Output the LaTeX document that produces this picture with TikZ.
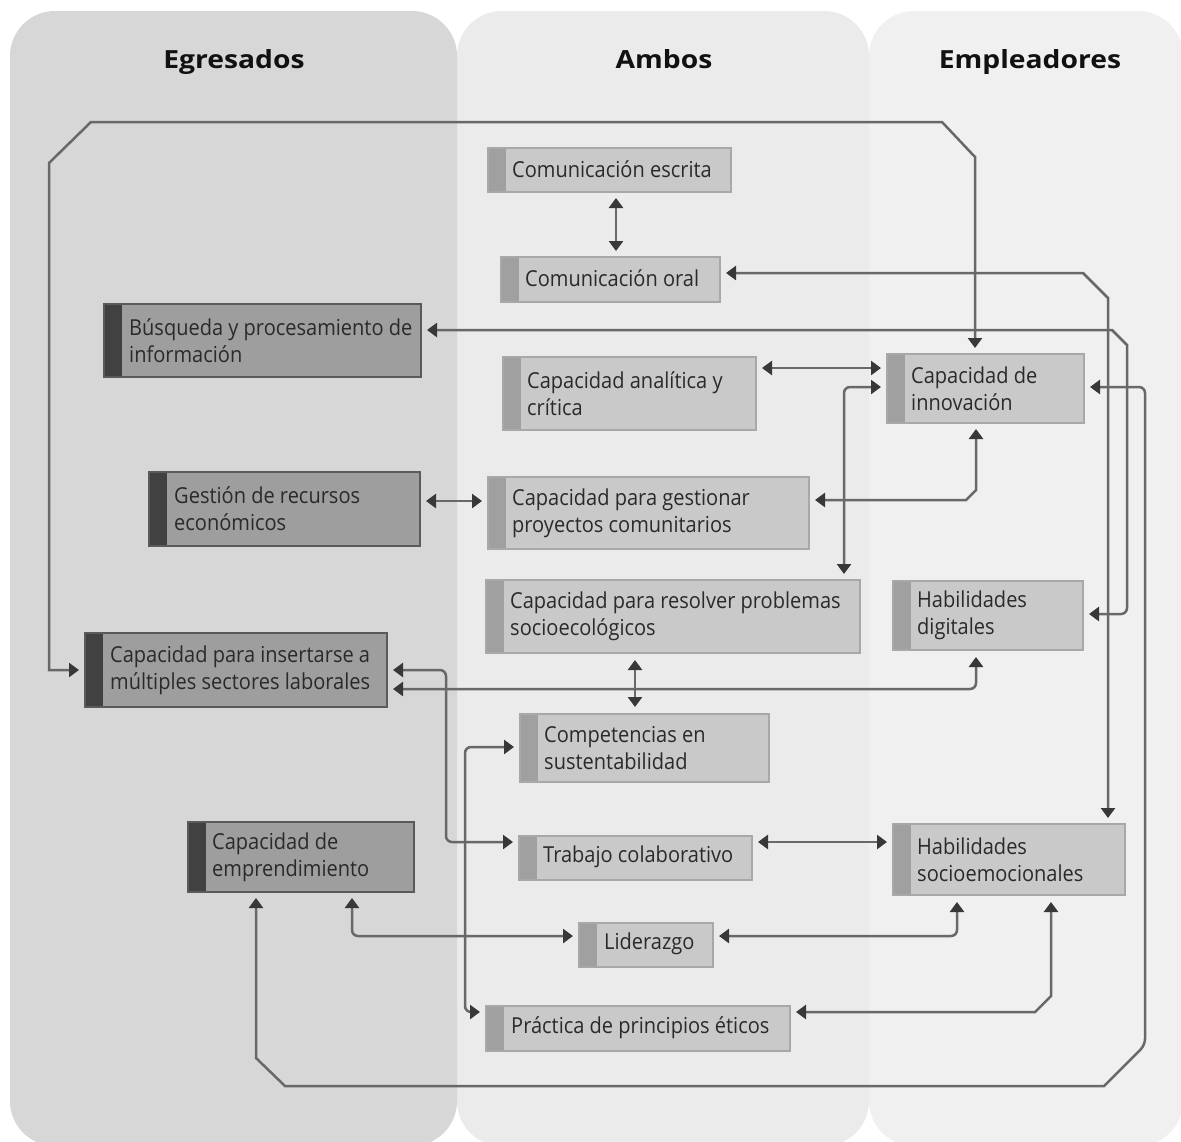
\documentclass[tikz,border=0pt]{standalone}
\usepackage{fontspec}
\setmainfont{Open Sans}[FakeStretch=0.91]
\newfontfamily\headfont{Open Sans}[FakeStretch=1.13]
\usetikzlibrary{arrows.meta,calc}
\definecolor{panA}{HTML}{D7D7D7}
\definecolor{panB}{HTML}{EBEBEB}
\definecolor{panC}{HTML}{F0F0F0}
\definecolor{darkfill}{HTML}{9E9E9E}
\definecolor{darkstripe}{HTML}{414141}
\definecolor{darkborder}{HTML}{5A5A5A}
\definecolor{lightfill}{HTML}{C9C9C9}
\definecolor{lightstripe}{HTML}{A0A0A0}
\definecolor{lightborder}{HTML}{A8A8A8}
\definecolor{linec}{HTML}{686868}
\definecolor{tipc}{HTML}{383838}
\definecolor{txtc}{HTML}{2A2A2A}
\definecolor{headc}{HTML}{111111}
\begin{document}
\begin{tikzpicture}[x=1pt,y=-1pt,
  panel/.style={fill=#1, draw=none, rounded corners=45pt},
  boxbase/.style={anchor=north west, inner sep=0pt, outer sep=0pt, line width=1.6pt,
     path picture={\fill[#1] (path picture bounding box.north west) rectangle ([xshift=18pt]path picture bounding box.south west);}},
  egbox/.style={boxbase=darkstripe, fill=darkfill, draw=darkborder},
  ambox/.style={boxbase=lightstripe, fill=lightfill, draw=lightborder},
  txt/.style={anchor=west, align=left, inner sep=0pt, text=txtc, font=\fontsize{22}{27}\selectfont},
  head/.style={anchor=base, font=\headfont\bfseries\fontsize{25}{30}\selectfont, text=headc},
  conn/.style={draw=linec, line width=2.5pt,
     {Triangle[length=10pt,width=14pt,color=tipc]}-{Triangle[length=10pt,width=14pt,color=tipc]}},
  rc/.style={rounded corners=6pt},
]
\useasboundingbox (0,0) rectangle (1181,1141);
\fill[white] (0,0) rectangle (1181,1141);
% panels
\path[panel=panB] (457,11) rectangle (869,1146);
\path[panel=panC] (869,11) rectangle (1183,1146);
\path[panel=panA] (10,11) rectangle (457,1146);
% headers
\node[head] (hE) at (234,68) {Egresados};
\node[head] (hA) at (664,68) {Ambos};
\node[head] (hM) at (1030,68) {Empleadores};
% egresados boxes
\node[egbox, minimum width=317pt, minimum height=73pt] (busq) at (104,304) {};
\node[egbox, minimum width=271pt, minimum height=74pt] (gest) at (149,472) {};
\node[egbox, minimum width=302pt, minimum height=74pt] (ins) at (85,633) {};
\node[egbox, minimum width=226pt, minimum height=70pt] (empr) at (188,822) {};
% ambos / empleadores boxes
\node[ambox, minimum width=243pt, minimum height=44pt] (escr) at (488,148) {};
\node[ambox, minimum width=219pt, minimum height=45pt] (oral) at (501,257) {};
\node[ambox, minimum width=253pt, minimum height=73pt] (anal) at (503,357) {};
\node[ambox, minimum width=197pt, minimum height=69pt] (innov) at (887,354) {};
\node[ambox, minimum width=321pt, minimum height=72pt] (proy) at (488,477) {};
\node[ambox, minimum width=374pt, minimum height=73pt] (resol) at (486,580) {};
\node[ambox, minimum width=190pt, minimum height=69pt] (digit) at (893,581) {};
\node[ambox, minimum width=249pt, minimum height=68pt] (comp) at (520,714) {};
\node[ambox, minimum width=233pt, minimum height=44pt] (trab) at (519,836) {};
\node[ambox, minimum width=232pt, minimum height=71pt] (socio) at (893,824) {};
\node[ambox, minimum width=134pt, minimum height=44pt] (lider) at (579,923) {};
\node[ambox, minimum width=304pt, minimum height=45pt] (prac) at (486,1006) {};
% texts
\node[txt] (busq-t) at ($(busq.west)+(25,0)$) {Búsqueda y procesamiento de\\información};
\node[txt] (gest-t) at ($(gest.west)+(25,0)$) {Gestión de recursos\\económicos};
\node[txt] (ins-t) at ($(ins.west)+(25,0)$) {Capacidad para insertarse a\\múltiples sectores laborales};
\node[txt] (empr-t) at ($(empr.west)+(24,0)$) {Capacidad de\\emprendimiento};
\node[txt] (escr-t) at ($(escr.west)+(24,-1)$) {Comunicación escrita};
\node[txt] (oral-t) at ($(oral.west)+(24,-1)$) {Comunicación oral};
\node[txt] (anal-t) at ($(anal.west)+(24,0)$) {Capacidad analítica y\\crítica};
\node[txt] (innov-t) at ($(innov.west)+(24,0)$) {Capacidad de\\innovación};
\node[txt] (proy-t) at ($(proy.west)+(24,0)$) {Capacidad para gestionar\\proyectos comunitarios};
\node[txt] (resol-t) at ($(resol.west)+(24,0)$) {Capacidad para resolver problemas\\socioecológicos};
\node[txt] (digit-t) at ($(digit.west)+(24,0)$) {Habilidades\\digitales};
\node[txt] (comp-t) at ($(comp.west)+(24,0)$) {Competencias en\\sustentabilidad};
\node[txt] (trab-t) at ($(trab.west)+(24,-1)$) {Trabajo colaborativo};
\node[txt] (socio-t) at ($(socio.west)+(24,0)$) {Habilidades\\socioemocionales};
\node[txt] (lider-t) at ($(lider.west)+(25,-1)$) {Liderazgo};
\node[txt] (prac-t) at ($(prac.west)+(25,-1)$) {Práctica de principios éticos};
% connectors
\draw[conn] ($(ins.west)+(-6,0)$) -- (49,670) -- (49,163) -- (91,122) -- (942,122) -- (975,157) -- ($(innov.north)+(-10.5,-6)$);
\draw[conn] ($(escr.south)+(6.5,6)$) -- ($(oral.north)+(5.5,-6)$);
\draw[conn] ($(oral.east)+(6,-6.5)$) -- (1083,273) -- (1108,298) -- ($(socio.north)+(99,-6)$);
\draw[conn] ($(busq.east)+(6,-10.5)$) -- (1112,330) -- (1127,345) [rounded corners=6pt] -- (1127,614) -- ($(digit.east)+(6,-1.5)$);
\draw[conn] ($(anal.east)+(6,-25.5)$) -- ($(innov.west)+(-6,-20.5)$);
\draw[conn, rc] ($(innov.west)+(-6,-1.5)$) -- (844,387) -- ($(resol.north)+(171,-6)$);
\draw[conn] ($(innov.east)+(6,-1.5)$) [rounded corners=6pt] -- (1145,387) -- (1145,1045) [sharp corners] -- (1104,1086) -- (285,1086) -- (256,1058) -- ($(empr.south)+(-45,6)$);
\draw[conn] ($(innov.south)+(-9.5,6)$) -- (976,490) -- (966,500) -- ($(proy.east)+(6,-13)$);
\draw[conn] ($(gest.east)+(6,-8)$) -- ($(proy.west)+(-6,-12)$);
\draw[conn] ($(resol.south)+(-38,7)$) -- ($(comp.north)+(-9.5,-7)$);
\draw[conn, rc] ($(ins.east)+(6,19)$) -- (976,689) -- ($(digit.south)+(-12,7)$);
\draw[conn, rc] ($(ins.east)+(6,0)$) -- (446,670) -- (446,842) -- ($(trab.west)+(-6,-16)$);
\draw[conn, rc] ($(comp.west)+(-6,-1)$) -- (465,747) -- (465,1012) -- ($(prac.west)+(-6,-16.5)$);
\draw[conn] ($(trab.east)+(6,-16)$) -- ($(socio.west)+(-6,-17.5)$);
\draw[conn, rc] ($(empr.south)+(51,6)$) -- (352,936) -- ($(lider.west)+(-6,-9)$);
\draw[conn, rc] ($(lider.east)+(6,-9)$) -- (957,936) -- ($(socio.south)+(-52,7)$);
\draw[conn] ($(prac.east)+(6,-16.5)$) -- (1035,1012) -- (1051,996) -- ($(socio.south)+(42,7)$);
\end{tikzpicture}
\end{document}
